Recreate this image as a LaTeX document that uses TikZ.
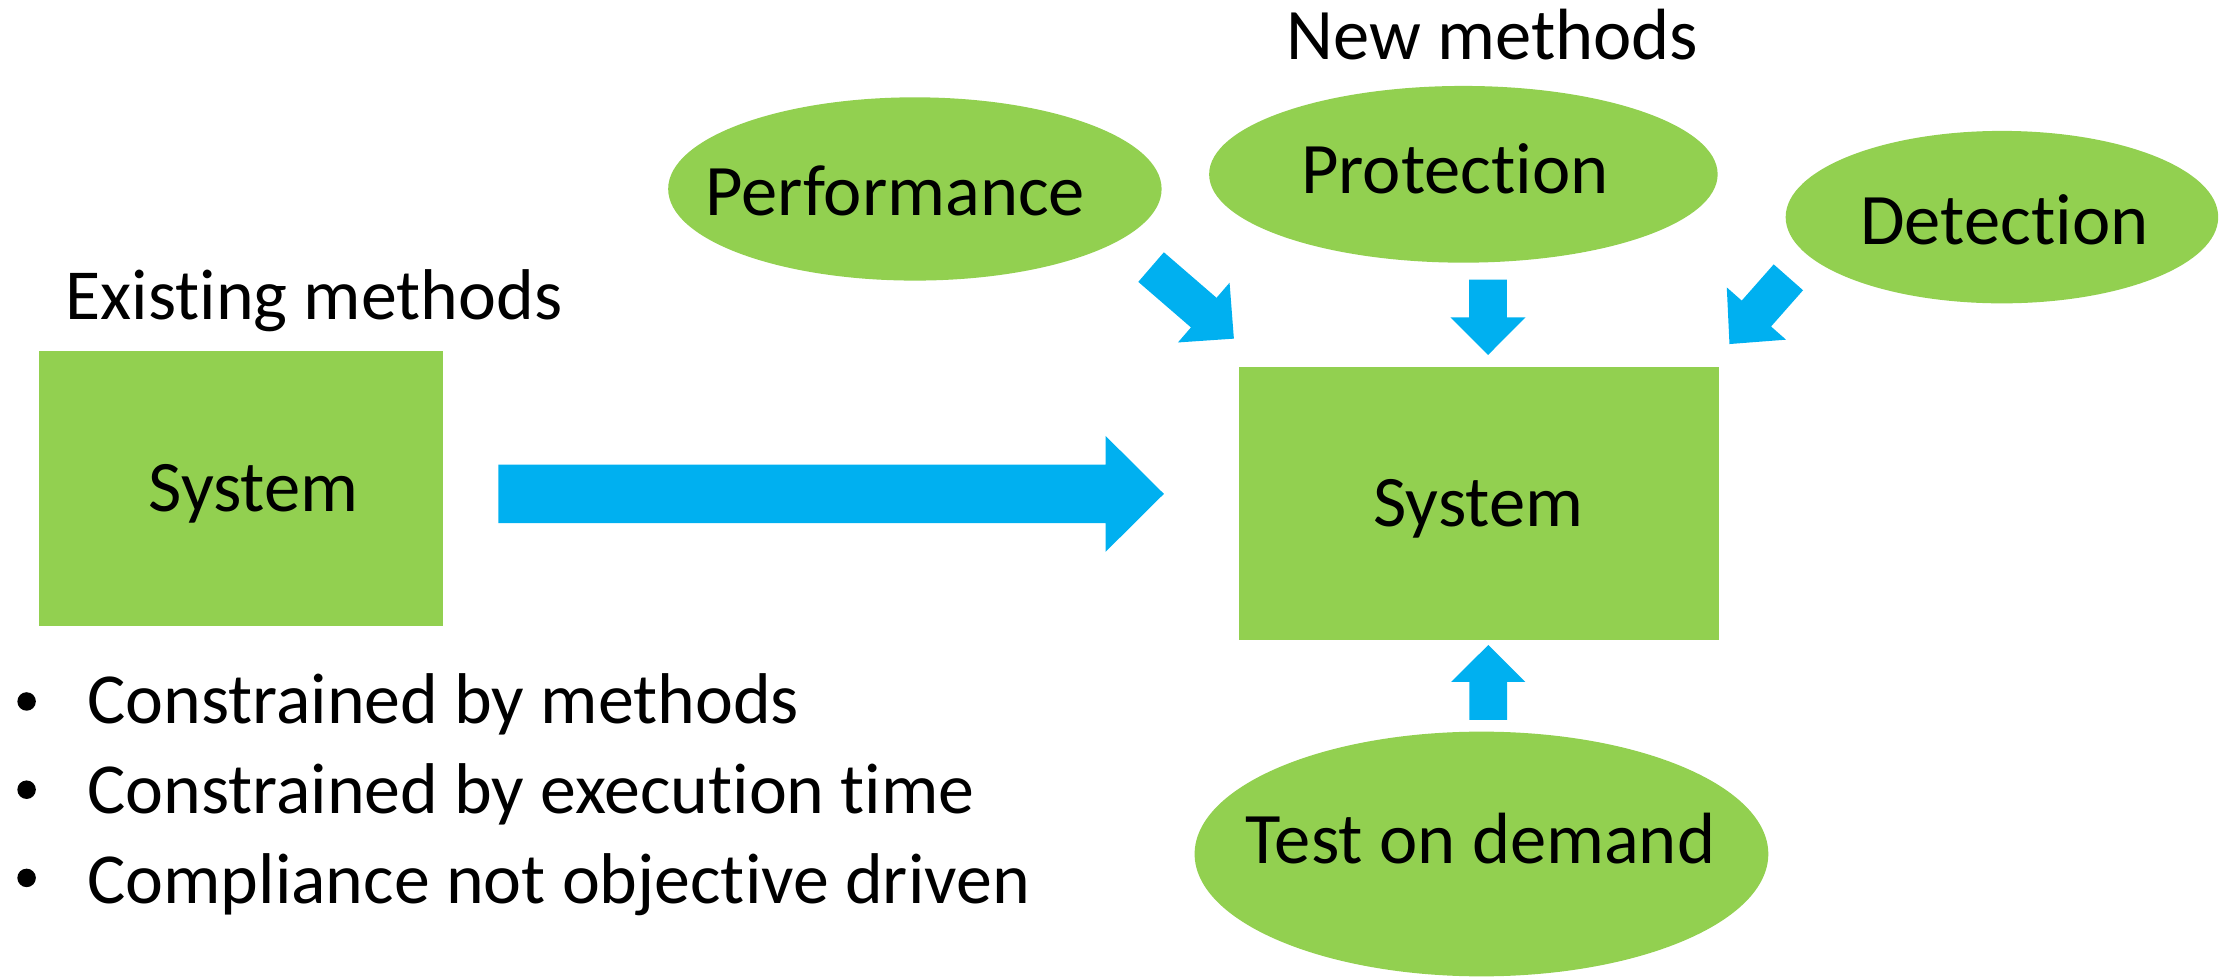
\documentclass[tikz,border=0pt]{standalone}
\usepackage{fontspec}
\setmainfont{Carlito}[Ligatures={NoCommon}]
\usetikzlibrary{shapes.geometric,calc}
\definecolor{boxgreen}{HTML}{92D050}
\definecolor{arrowblue}{HTML}{00B0F0}
\newcommand\blockarr[5]{%
  \coordinate (ba-h) at ($(#2)!#5!(#1)$);
  \fill[arrowblue] ($(#1)!#3!90:(#2)$) -- ($(ba-h)!#3!90:(#2)$) -- ($(ba-h)!#4!90:(#2)$) -- (#2)
    -- ($(ba-h)!#4!-90:(#2)$) -- ($(ba-h)!#3!-90:(#2)$) -- ($(#1)!#3!-90:(#2)$) -- cycle;
}
\begin{document}
\begin{tikzpicture}[x=1pt,y=-1pt,
  greenbox/.style={rectangle, fill=boxgreen, inner sep=0pt},
  greenell/.style={ellipse, fill=boxgreen, inner sep=0pt},
  txt/.style={inner sep=0pt, anchor=base, font=\fontsize{51}{61}\selectfont},
  ltxt/.style={inner sep=0pt, anchor=base west, font=\fontsize{50.5}{61}\selectfont},
  bul/.style={circle, fill=black, inner sep=0pt, minimum size=13pt}]
\useasboundingbox (0,0) rectangle (1568,686);

% boxes
\node[greenbox, minimum width=283.6pt, minimum height=193.1pt] (sysL) at (169.2,343.25) {};
\node[greenbox, minimum width=337.6pt, minimum height=192.3pt] (sysR) at (1039.5,353.85) {};

% ellipses
\node[greenell, minimum width=346.8pt, minimum height=128.8pt] (perf) at (643,132.8) {};
\node[greenell, minimum width=357.4pt, minimum height=124.2pt] (prot) at (1028.5,122.5) {};
\node[greenell, minimum width=304pt, minimum height=121.2pt] (det) at (1407,152.6) {};
\node[greenell, minimum width=403.2pt, minimum height=172pt] (test) at (1041.2,600.2) {};

% texts
\node[txt] (tNew) at (1048.8,41.7) {New methods};
\node[txt] (tPerf) at (629.2,151.8) {Performance};
\node[txt] (tProt) at (1022.5,135.9) {Protection};
\node[txt] (tDet) at (1408.7,171.7) {Detection};
\node[txt] (tTest) at (1040.6,606.8) {Test on demand};
\node[txt] (tSysL) at (178.2,359.2) {System};
\node[txt] (tSysR) at (1039,370) {System};
\node[ltxt] (tExist) at (46,224.2) {Existing methods};

\node[bul] (b1) at (18.7,493) {};
\node[bul] (b2) at (18.7,555) {};
\node[bul] (b3) at (18.7,617) {};
\node[ltxt] (l1) at (61.2,508.8) {Constrained by methods};
\node[ltxt] (l2) at (61.2,571.6) {Constrained by execution time};
\node[ltxt] (l3) at (61.2,634.9) {Compliance not objective driven};

% arrow end points
\coordinate (bigS) at (350.2,347.1);
\coordinate (bigE) at (818,347.1);
\coordinate (perfS) at (809,187.7);
\coordinate (perfE) at (867.2,238);
\coordinate (protS) at (1045.8,196.6);
\coordinate (protE) at (1045.8,249.5);
\coordinate (detS) at (1256.9,194.9);
\coordinate (detE) at (1215.5,241.8);
\coordinate (testS) at (1046,506);
\coordinate (testE) at (1046,453.3);

\blockarr{bigS}{bigE}{20.5pt}{40.75pt}{41pt}
\blockarr{perfS}{perfE}{13.75pt}{27.75pt}{28pt}
\blockarr{protS}{protE}{13.2pt}{26.4pt}{26.5pt}
\blockarr{detS}{detE}{13.75pt}{27.75pt}{28.6pt}
\blockarr{testS}{testE}{13.25pt}{26.1pt}{26pt}
\end{tikzpicture}
\end{document}
